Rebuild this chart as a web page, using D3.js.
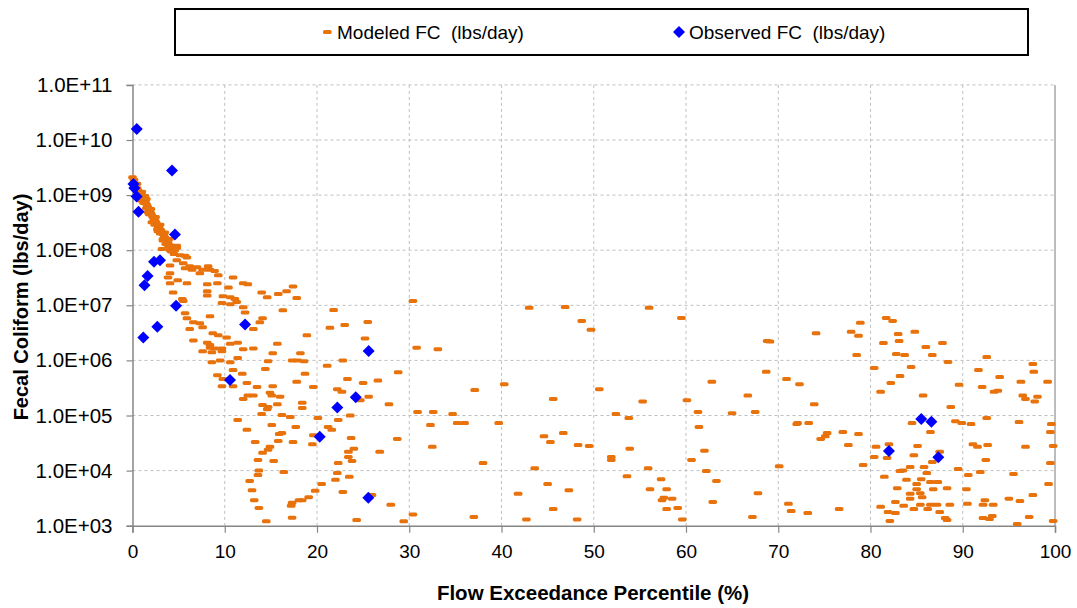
<!DOCTYPE html>
<html><head><meta charset="utf-8">
<script src="https://cdn.jsdelivr.net/npm/d3@7"></script>
<style>body{margin:0;background:#fff}svg{display:block}text{white-space:pre}</style>
</head><body><svg id="c" width="1077" height="608"></svg>
<script>
const xTicks=[0,10,20,30,40,50,60,70,80,90,100];
const yTicks=[1e3,1e4,1e5,1e6,1e7,1e8,1e9,1e10,1e11];
const yTickLabels=["1.0E+03","1.0E+04","1.0E+05","1.0E+06","1.0E+07","1.0E+08","1.0E+09","1.0E+10","1.0E+11"];
const seriesNames=["Modeled FC  (lbs/day)","Observed FC  (lbs/day)"];

const modeledPct=[
0.0,0.16,0.38,0.49,0.6,0.7,0.81,0.92,1.03,1.14,1.25,1.36,1.46,1.57,1.68,1.79,1.9,2.0,2.1,2.2,2.33,2.44,2.55,2.66,2.76,2.87,2.98,3.09,3.2,3.3,3.41,3.52,3.63,3.74,3.85,4.07,4.28,
0.3,0.6,0.9,1.2,1.5,1.8,2.4,2.7,3.0,3.3,3.6,3.9,4.2,4.5,0.5,1.0,1.5,2.0,2.5,3.0,3.5,4.0,
0.81,1.36,1.68,2.1,2.76,3.3,3.74,4.07,4.6,4.8,3.2,4.8,5.15,5.7,5.9,4.8,4.07,5.5,6.2,7.0,7.6,8.4,8.2,7.3,8.9,9.3,10.9,4.07,3.85,5.7,6.45,4.9,
4.07,5.9,8.1,9.2,10.4,12.0,12.5,17.4,8.1,8.1,9.8,10.6,11.1,14.0,15.8,16.7,14.6,17.8,4.4,5.4,5.5,9.7,10.6,11.3,12.0,12.2,16.3,5.7,5.9,8.4,6.6,7.3,7.6,6.2,13.8,14.1,13.1,18.9,8.7,9.3,10.2,11.4,10.6,6.6,8.1,8.4,8.4,8.9,9.7,9.7,7.6,8.6,12.0,13.1,15.7,15.2,18.2,8.6,9.5,10.6,11.4,14.7,17.3,17.9,18.6,14.4,9.2,10.9,11.9,9.8,9.7,10.9,12.4,13.5,15.2,17.8,18.7,19.6,
12.5,13.1,12.0,14.9,15.1,16.0,14.1,14.7,14.6,15.7,14.0,16.2,17.1,11.4,12.4,15.1,17.7,15.9,16.2,15.8,17.4,13.3,14.9,14.7,14.1,13.6,15.3,13.7,13.6,16.4,12.7,12.96,18.05,13.2,17.3,17.2,13.7,17.3,14.5,
21.8,23.0,21.4,25.5,25.2,30.4,30.8,33.1,43.0,22.8,21.1,28.8,23.3,25.0,26.6,22.2,22.7,25.6,24.7,18.4,18.4,27.8,23.6,22.3,20.1,21.2,21.6,19.6,19.5,23.7,28.7,24.0,23.4,23.4,23.8,22.3,26.8,30.9,32.6,34.7,32.3,35.2,36.0,39.7,32.5,37.1,40.3,38.0,22.2,22.0,23.5,20.5,19.8,22.8,19.1,18.4,25.96,28.0,24.3,29.4,30.4,37.0,41.8,42.7,
46.9,48.7,49.7,56.0,59.5,68.8,69.1,45.6,50.6,55.3,52.4,53.8,60.1,62.8,61.3,65.0,66.7,67.5,68.7,44.6,45.3,46.7,48.3,49.5,61.4,43.6,51.9,51.9,53.9,55.9,60.6,62.0,62.2,70.1,45.0,47.3,53.6,56.1,57.3,57.9,57.4,57.6,58.5,63.3,62.9,67.8,45.6,48.2,57.9,59.1,59.6,67.2,
70.9,72.3,74.1,77.9,78.7,78.9,81.7,82.4,83.0,84.8,81.4,83.1,86.0,87.8,78.5,82.8,83.7,86.7,92.6,88.4,80.4,84.4,83.2,82.2,81.1,85.7,89.6,91.7,94.0,92.1,93.4,93.8,96.3,97.6,97.7,99.2,96.5,96.8,98.1,97.8,73.9,88.7,
72.1,72.0,73.3,84.5,89.2,89.9,90.9,92.6,96.1,99.6,99.5,86.5,75.3,75.1,74.6,77.0,78.7,77.6,80.6,82.0,85.1,84.7,80.4,81.8,91.1,91.6,92.7,96.8,99.8,87.5,86.7,92.5,99.5,79.2,84.3,83.5,83.2,85.8,86.1,89.5,91.9,90.6,95.5,
81.5,83.9,85.5,86.5,87.3,85.0,88.3,86.8,85.0,82.9,90.4,99.3,84.3,85.4,84.3,85.6,97.6,95.0,96.2,92.4,82.7,83.6,81.1,85.4,86.5,87.2,86.2,88.6,90.5,92.2,93.3,84.7,81.9,82.7,87.5,71.1,71.4,73.2,76.6,88.1,88.3,92.2,92.9,93.2,97.2,95.9,99.8,82.1
];
const modeledFC=[
2.1e9,1.9e9,1.6e9,1.34e9,1.23e9,1.13e9,1.09e9,9.6e8,1.0e9,9.2e8,8.4e8,7.8e8,7.1e8,6.6e8,6.0e8,5.5e8,5.1e8,4.7e8,4.3e8,4.0e8,3.65e8,3.5e8,3.2e8,2.96e8,2.7e8,2.6e8,2.4e8,2.3e8,2.1e8,1.95e8,1.87e8,1.7e8,1.6e8,1.5e8,1.4e8,1.23e8,1.13e8,
1.5e9,1.0e9,8.0e8,7.2e8,5.8e8,4.5e8,2.9e8,2.4e8,2.0e8,1.6e8,1.3e8,1.15e8,9.5e7,8.5e7,1.6e9,1.15e9,8.5e8,5.6e8,4.0e8,2.9e8,2.1e8,1.6e8,
9.2e8,9.6e8,4.9e8,3.2e8,2.2e8,1.5e8,1.3e8,1.0e8,1.0e8,1.1e8,1.05e8,1.2e8,8.1e7,7.9e7,7.4e7,6.6e7,5.3e7,5.8e7,5.1e7,4.9e7,4.4e7,4.4e7,5.1e7,3.8e7,4.2e7,3.5e7,3.2e7,3.8e7,3.2e7,4.7e7,4.4e7,2.85e7,
2.5e7,2.5e7,2.4e7,2.5e7,2.1e7,2.5e7,2.4e7,2.2e7,1.8e7,1.5e7,1.46e7,1.4e7,1.3e7,1.7e7,1.6e7,1.8e7,1.4e7,1.35e7,1.7e7,1.3e7,1.2e7,1.1e7,1.05e7,1.15e7,9.2e6,7.4e6,8.1e6,7.2e6,5.8e6,6.3e6,4.9e6,4.7e6,4.0e6,3.7e6,4.9e6,5.8e6,3.7e6,2.85e6,3.1e6,2.85e6,2.6e6,2.1e6,2.0e6,2.3e6,2.1e6,1.9e6,1.7e6,1.65e6,1.65e6,1.46e6,1.46e6,1.4e6,1.6e6,1.65e6,2.0e6,1.35e6,1.35e6,9.3e5,1.0e6,9.3e5,1.1e6,9.7e5,1.0e6,1.0e6,9.7e5,7.0e5,5.4e5,6.7e5,5.7e5,4.6e5,3.4e5,3.4e5,3.9e5,3.3e5,3.4e5,4.1e5,5.7e5,3.3e5,
2.3e5,2.3e5,2.0e5,2.6e5,2.3e5,2.2e5,1.55e5,1.43e5,1.3e5,1.6e5,1.06e5,1.02e5,9.4e4,8.3e4,5.5e4,6.7e4,6.2e4,4.6e4,4.8e4,3.45e4,3.3e4,3.3e4,2.7e4,2.4e4,2.1e4,1.56e4,1.5e4,1.0e4,8.3e3,9.4e3,6.5e3,4.4e3,2.9e3,2.9e3,2.6e3,2.3e3,2.1e3,1.4e3,1.2e3,
8.2e6,4.4e6,3.9e6,5.0e6,2.5e6,1.2e7,1.7e6,1.6e6,9.0e6,1.0e6,8.0e5,6.1e5,4.6e5,3.9e5,4.3e5,3.0e5,2.7e5,2.2e5,1.9e5,1.7e5,1.37e5,1.6e5,1.0e5,8.3e4,9.0e4,6.2e4,5.5e4,4.4e4,3.0e4,3.9e4,3.75e4,2.5e4,2.2e4,1.77e4,1.5e4,1.37e4,2.2e4,1.16e5,1.16e5,1.06e5,6.7e4,7.3e4,7.3e4,7.3e4,2.7e4,2.9e5,3.7e5,1.37e4,9.0e3,6.8e3,7.7e3,5.7e3,4.3e3,4.1e3,3.3e3,2.9e3,3.6e3,2.4e3,1.27e3,1.2e3,1.6e3,1.44e3,3.8e3,1.3e3,
9.3e6,5.2e6,3.6e6,9.0e6,5.9e6,2.25e6,2.2e6,2.0e5,3.0e5,1.8e5,1.06e5,9.0e4,1.9e5,4.1e5,1.16e5,1.1e5,2.3e5,1.16e5,6.2e5,4.2e4,3.3e4,4.8e4,2.9e4,2.8e4,6.2e4,1.1e4,1.77e4,1.56e4,2.5e4,1.1e4,1.56e4,2.3e4,9.8e3,1.2e4,5.7e3,4.4e3,7.9e3,4.6e3,7.0e3,4.6e3,2.9e3,3.2e3,3.1e3,6.5e3,2.7e3,3.9e3,2.0e3,1.3e3,2.0e3,2.1e3,1.3e3,1.44e3,
4.6e5,3.7e5,3.1e6,3.3e6,2.8e6,4.8e6,5.9e6,5.2e6,3.0e6,3.3e6,2.07e6,2.25e6,1.75e6,2.07e6,1.25e6,1.3e6,1.25e6,1.25e6,1.15e6,9.4e5,7.3e5,7.6e5,5.2e5,3.9e5,2.7e5,2.3e5,3.6e5,6.7e5,5.0e5,3.3e5,2.7e5,2.8e5,4.1e5,8.6e5,6.2e5,4.1e5,2.3e5,2.0e5,2.2e5,1.8e5,1.6e5,1.43e5,
7.3e4,7.0e4,7.3e4,7.3e4,7.9e4,7.3e4,7.0e4,9.0e4,7.6e4,7.0e4,5.0e4,5.0e4,4.8e4,4.2e4,3.75e4,5.0e4,4.6e4,2.9e4,2.7e4,3.0e4,2.8e4,1.9e4,1.77e4,1.7e4,3.0e4,2.7e4,2.9e4,2.7e4,2.8e4,2.2e4,1.43e4,1.56e4,1.37e4,1.26e4,1.16e4,1.0e4,9.8e3,1.16e4,9.0e3,1.07e4,9.4e3,8.3e3,8.7e3,
7.7e3,6.8e3,7.0e3,6.2e3,6.2e3,5.7e3,4.8e3,4.6e3,4.6e3,4.8e3,4.6e3,5.7e3,3.8e3,3.9e3,3.1e3,3.3e3,3.6e3,3.1e3,2.8e3,2.9e3,2.7e3,2.3e3,2.2e3,2.4e3,2.4e3,2.4e3,2.0e3,2.4e3,2.5e3,2.4e3,2.4e3,2.0e3,1.77e3,1.7e3,1.77e3,2.5e3,1.85e3,1.7e3,2.0e3,1.38e3,1.27e3,1.38e3,1.32e3,1.5e3,1.44e3,1.07e3,1.22e3,1.22e3
];
const observedPct=[0.46,0.1,0.2,0.45,0.65,4.28,4.6,2.33,2.98,1.63,1.3,4.72,2.69,1.17,12.2,10.57,25.6,24.2,22.2,20.3,25.56,85.5,86.6,82.0,87.35];
const observedFC=[1.58e10,1.59e9,1.35e9,9.4e8,5.0e8,2.8e9,1.93e8,6.2e7,6.6e7,3.4e7,2.3e7,9.8e6,4.1e6,2.6e6,4.5e6,4.4e5,1.48e6,2.14e5,1.39e5,4.1e4,3.2e3,8.6e4,7.7e4,2.27e4,1.74e4];

const svg=d3.select("#c");
const L=132.5,R=1055,T=84.9,B=525.7;
const x=d3.scaleLinear().domain([0,100]).range([L,R]);
const y=d3.scaleLog().domain([1e3,1e11]).range([B,T]);
const ORANGE="#E8720C", BLUE="#0000FF", AX="#868686", GRID="#BFBFBF";
const sans="'Liberation Sans', Arial, sans-serif";

// gridlines
const g=svg.append("g");
g.selectAll("line.h").data(yTicks.slice(1)).join("line")
 .attr("x1",L).attr("x2",R).attr("y1",d=>y(d)).attr("y2",d=>y(d))
 .attr("stroke",GRID).attr("stroke-width",1).attr("stroke-dasharray","3,3");
g.selectAll("line.v").data(xTicks.slice(1,-1)).join("line")
 .attr("x1",d=>x(d)).attr("x2",d=>x(d)).attr("y1",T).attr("y2",B)
 .attr("stroke",GRID).attr("stroke-width",1).attr("stroke-dasharray","3,3");
svg.append("line").attr("x1",R).attr("x2",R).attr("y1",T).attr("y2",B).attr("stroke","#A6A6A6").attr("stroke-width",1.5);

// axes
const xa=svg.append("g").attr("transform",`translate(0,${B})`)
 .call(d3.axisBottom(x).tickValues(xTicks).tickSize(7).tickPadding(9).tickFormat(d3.format("d")));
const ya=svg.append("g").attr("transform",`translate(${L},0)`)
 .call(d3.axisLeft(y).tickValues(yTicks).tickSize(6).tickPadding(14).tickFormat((d,i)=>yTickLabels[i]));
[xa,ya].forEach(a=>{
  a.select(".domain").attr("stroke",AX).attr("stroke-width",1.5);
  a.selectAll(".tick line").attr("stroke",AX).attr("stroke-width",1.2);
  a.selectAll("text").attr("fill","#000").style("font-family",sans);
});
xa.selectAll("text").style("font-size","19px").style("font-family","'Liberation Sans Narrow','Liberation Sans',Arial,sans-serif").attr("dy","0.85em");
ya.selectAll("text").style("font-size","20.5px");

// modeled dashes
svg.append("g").selectAll("rect").data(modeledPct.map((p,i)=>[p,modeledFC[i]])).join("rect")
 .attr("x",d=>x(d[0])-4.3).attr("y",d=>y(d[1])-2).attr("width",8.6).attr("height",4).attr("rx",1.6)
 .attr("fill",ORANGE);

// observed diamonds
const dia=(cx,cy,r)=>`M${cx},${cy-r}L${cx+r},${cy}L${cx},${cy+r}L${cx-r},${cy}Z`;
svg.append("g").selectAll("path").data(observedPct.map((p,i)=>[p,observedFC[i]])).join("path")
 .attr("d",d=>dia(x(d[0]),y(d[1]),6)).attr("fill",BLUE);

// axis titles
svg.append("text").attr("x",593).attr("y",600).attr("text-anchor","middle")
 .style("font-family",sans).style("font-weight","bold").style("font-size","20.5px")
 .text("Flow Exceedance Percentile (%)");
svg.append("text").attr("transform",`translate(28,${307}) rotate(-90)`).attr("text-anchor","middle")
 .style("font-family",sans).style("font-weight","bold").style("font-size","20px")
 .text("Fecal Coliform (lbs/day)");

// legend
const lg=svg.append("g");
lg.append("rect").attr("x",175).attr("y",9).attr("width",853).attr("height",46).attr("fill","#fff").attr("stroke","#000").attr("stroke-width",2);
lg.append("rect").attr("x",323).attr("y",30).attr("width",8.6).attr("height",4).attr("rx",1.6).attr("fill",ORANGE);
lg.append("text").attr("x",337).attr("y",39).style("font-family",sans).style("font-size","19px").text(seriesNames[0]);
lg.append("path").attr("d",dia(679,32,6)).attr("fill",BLUE);
lg.append("text").attr("x",689).attr("y",39).style("font-family",sans).style("font-size","19px").text(seriesNames[1]);
</script></body></html>
